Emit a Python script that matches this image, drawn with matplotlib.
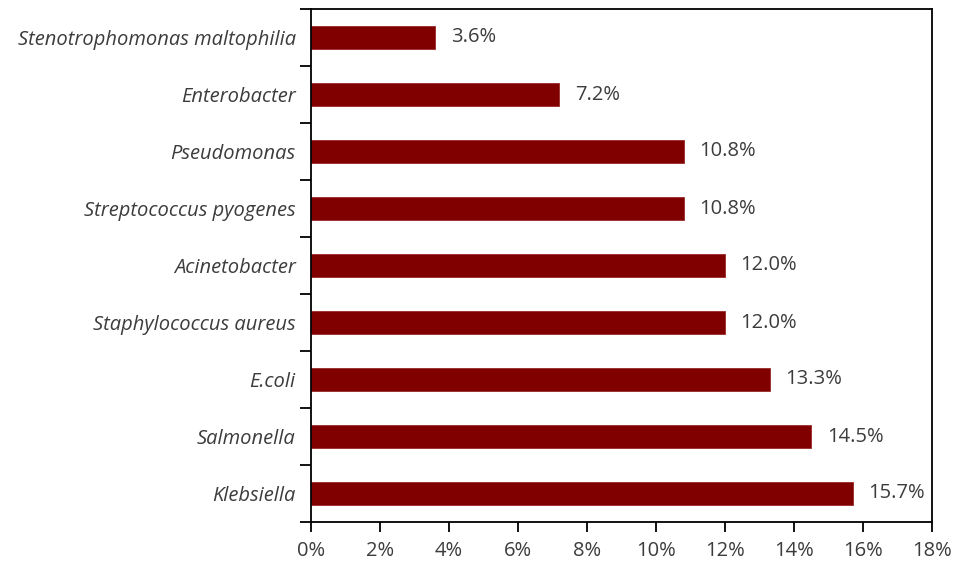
import matplotlib.pyplot as plt
from matplotlib.ticker import FuncFormatter, MultipleLocator
import numpy as np

organisms = ["Klebsiella", "Salmonella", "E.coli", "Staphylococcus aureus",
             "Acinetobacter", "Streptococcus pyogenes", "Pseudomonas",
             "Enterobacter", "Stenotrophomonas maltophilia"]
percent = [15.7, 14.5, 13.3, 12.0, 12.0, 10.8, 10.8, 7.2, 3.6]

plt.rcParams['font.family'] = ['Open Sans', 'DejaVu Sans']
text_col = "#3c3c3c"

fig = plt.figure(figsize=(9.56, 5.63), dpi=100)
ax = fig.add_axes([311/956, 1-522/563, (932-311)/956, (522-9)/563])

y = np.arange(len(organisms))
ax.barh(y, percent, height=0.4, color="#800000", edgecolor="#9a2a2a", linewidth=0.6)

for yi, v in zip(y, percent):
    ax.text(v + 0.45, yi, f"{v:.1f}%", va="center", ha="left",
            fontsize=14.5, color=text_col)

ax.set_xlim(0, 18)
ax.set_ylim(-0.5, len(organisms) - 0.5)
ax.xaxis.set_major_locator(MultipleLocator(2))
ax.xaxis.set_major_formatter(FuncFormatter(lambda v, p: f"{v:.0f}%"))

ax.set_yticks(y)
ax.set_yticklabels(organisms, fontstyle="italic")
ax.set_yticks(np.arange(-0.5, len(organisms)), minor=True)
ax.tick_params(axis="y", which="major", length=0, pad=11, labelsize=14.5, labelcolor=text_col)
ax.tick_params(axis="y", which="minor", length=8, width=1.3, direction="out")
ax.tick_params(axis="x", length=7, width=1.3, direction="out", pad=7,
               labelsize=14.5, labelcolor=text_col)

for s in ax.spines.values():
    s.set_linewidth(1.3)

fig.savefig("out.png", dpi=100)
